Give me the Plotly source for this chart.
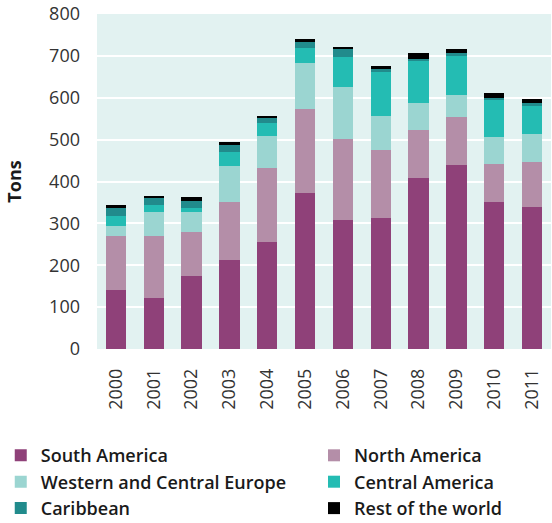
import plotly.graph_objects as go

years = ["2000", "2001", "2002", "2003", "2004", "2005", "2006", "2007", "2008", "2009", "2010", "2011"]

south_america = [142, 121, 175, 213, 255, 372, 308, 314, 409, 440, 352, 338]
north_america = [128, 149, 104, 139, 178, 200, 193, 162, 114, 113, 90, 108]
western_central_europe = [24, 56, 47, 85, 76, 110, 124, 81, 64, 53, 64, 68]
central_america = [24, 18, 10, 34, 30, 36, 72, 105, 100, 94, 89, 66]
caribbean = [18, 18, 18, 16, 12, 14, 20, 7, 6, 8, 4, 8]
rest_of_world = [7, 4, 8, 8, 6, 8, 4, 8, 13, 8, 12, 8]

series = [
    ("South America", south_america, "#8f4179", "legend"),
    ("North America", north_america, "#b48ea8", "legend2"),
    ("Western and Central Europe", western_central_europe, "#9bd5d1", "legend"),
    ("Central America", central_america, "#24bcb3", "legend2"),
    ("Caribbean", caribbean, "#218b8c", "legend"),
    ("Rest of the world", rest_of_world, "#000000", "legend2"),
]

fig = go.Figure()
for name, vals, color, leg in series:
    fig.add_trace(go.Bar(
        x=years, y=vals, name=name, legend=leg, legendgroup=name,
        marker=dict(color=color, line=dict(width=0)),
    ))

font_family = "'Open Sans', Lato, sans-serif"
legend_font = dict(family=font_family, size=18, color="#1a1a1a", weight=600)

common_legend = dict(
    orientation="v",
    xref="paper", yref="paper",
    yanchor="top", xanchor="left",
    font=legend_font,
    traceorder="normal",
    tracegroupgap=3,
    bgcolor="rgba(0,0,0,0)",
)

fig.update_layout(
    barmode="stack",
    bargap=0.46,
    width=552, height=523,
    margin=dict(l=97, r=1, t=14, b=174, autoexpand=False),
    paper_bgcolor="white",
    plot_bgcolor="#e2f2f1",
    font=dict(family=font_family, size=18, color="#2b2b2b"),
    showlegend=True,
    legend=dict(common_legend, x=-0.212, y=-0.263),
    legend2=dict(common_legend, x=0.478, y=-0.263),
    yaxis=dict(
        range=[0, 800],
        tickvals=[0, 100, 200, 300, 400, 500, 600, 700, 800],
        showgrid=True, gridcolor="white", gridwidth=2,
        zeroline=False, showline=False,
        ticks="", ticklabelstandoff=16,
        tickfont=dict(size=18, color="#333333"),
        title=dict(text="<b>Tons</b>", font=dict(size=18, color="#1a1a1a"), standoff=22),
    ),
    xaxis=dict(
        tickangle=-90,
        showgrid=False, zeroline=False, showline=False,
        ticks="", ticklabelstandoff=15,
        tickfont=dict(size=18, color="#333333"),
    ),
)

fig.write_html("out.html", config={"displayModeBar": False},
               post_script="document.body.style.margin='0';")
